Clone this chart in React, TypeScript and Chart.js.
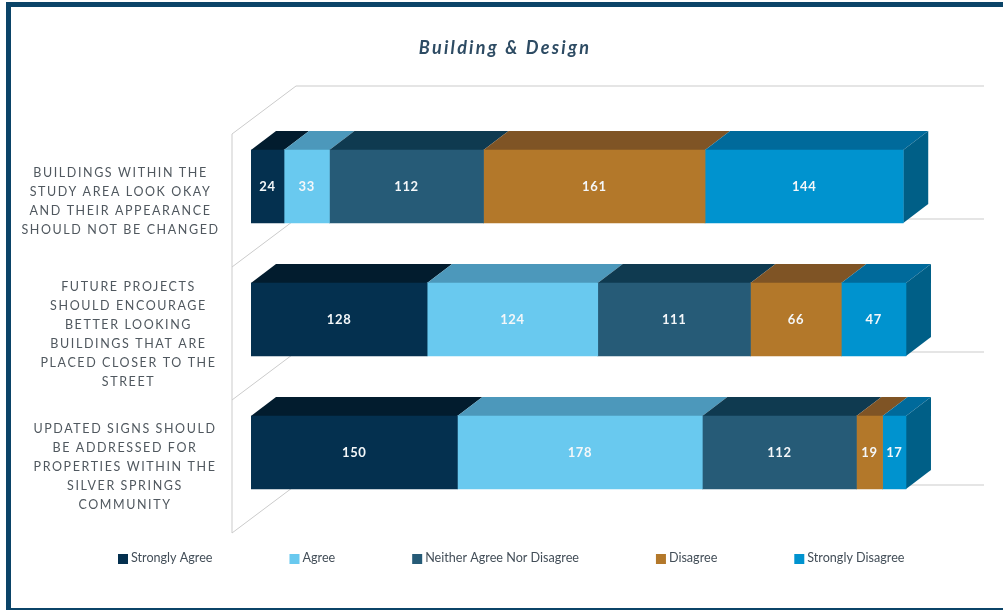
import React, { useEffect, useRef } from "react";
import { Chart, registerables } from "chart.js";

Chart.register(...registerables);

const chartTitle = "Building & Design";
const categories = [
  ["BUILDINGS WITHIN THE", "STUDY AREA LOOK OKAY", "AND THEIR APPEARANCE", "SHOULD NOT BE CHANGED"],
  ["FUTURE PROJECTS", "SHOULD ENCOURAGE", "BETTER LOOKING", "BUILDINGS THAT ARE", "PLACED CLOSER TO THE", "STREET"],
  ["UPDATED SIGNS SHOULD", "BE ADDRESSED FOR", "PROPERTIES WITHIN THE", "SILVER SPRINGS", "COMMUNITY"],
];
const stronglyAgree = [24, 128, 150];
const agree = [33, 124, 178];
const neither = [112, 111, 112];
const disagree = [161, 66, 19];
const stronglyDisagree = [144, 47, 17];

const seriesNames = ["Strongly Agree", "Agree", "Neither Agree Nor Disagree", "Disagree", "Strongly Disagree"];
const seriesValues = [stronglyAgree, agree, neither, disagree, stronglyDisagree];
const frontColors = ["#04304f", "#69c9ef", "#265b77", "#b3782a", "#0093cf"];
const topColors = ["#021c2e", "#4c98bb", "#0f3a50", "#7f5425", "#006a9b"];
const sideColor = "#005f87";

const FACE = 'Lato, "Noto Sans", sans-serif';
const BAR_DX = 25;
const BAR_DY = 19;
const WALL_LEFT = 19;
const WALL_FRONT = 14;
const WALL_BACK = 34;
const WALL_DX = 64;
const LABEL_CENTERS = [120.5, 128.5, 125];

const box3d = {
  id: "box3d",
  beforeDatasetsDraw(chart: any) {
    const { ctx, chartArea, scales } = chart;
    const yScale = scales.y;
    const band = (chartArea.bottom - chartArea.top) / categories.length;
    const fx = chartArea.left - WALL_LEFT;
    const bx = fx + WALL_DX;
    const right = chartArea.right - WALL_LEFT + WALL_DX;
    ctx.save();
    ctx.strokeStyle = "#cbcbcb";
    ctx.lineWidth = 1;
    ctx.beginPath();
    ctx.moveTo(fx, chartArea.top + WALL_FRONT);
    ctx.lineTo(fx, chartArea.bottom + WALL_FRONT);
    for (let i = 0; i <= categories.length; i++) {
      const y = yScale.top + band * i;
      ctx.moveTo(fx, y + WALL_FRONT);
      ctx.lineTo(bx, y - WALL_BACK);
      ctx.lineTo(right, y - WALL_BACK);
    }
    ctx.stroke();

    const count = chart.data.datasets.length;
    for (let d = 0; d < count; d++) {
      chart.getDatasetMeta(d).data.forEach((bar: any) => {
        const p = bar.getProps(["x", "y", "base", "height"], true);
        const top = p.y - p.height / 2;
        ctx.fillStyle = topColors[d];
        ctx.beginPath();
        ctx.moveTo(p.base, top);
        ctx.lineTo(p.x, top);
        ctx.lineTo(p.x + BAR_DX, top - BAR_DY);
        ctx.lineTo(p.base + BAR_DX, top - BAR_DY);
        ctx.closePath();
        ctx.fill();
        if (d === count - 1) {
          const bottom = p.y + p.height / 2;
          ctx.fillStyle = sideColor;
          ctx.beginPath();
          ctx.moveTo(p.x, top);
          ctx.lineTo(p.x + BAR_DX, top - BAR_DY);
          ctx.lineTo(p.x + BAR_DX, bottom - BAR_DY);
          ctx.lineTo(p.x, bottom);
          ctx.closePath();
          ctx.fill();
        }
      });
    }
    ctx.restore();
  },
  afterDatasetsDraw(chart: any) {
    const { ctx, scales } = chart;
    ctx.save();

    // value labels
    ctx.textAlign = "center";
    ctx.textBaseline = "middle";
    ctx.fillStyle = "#f4f7f9";
    ctx.font = `700 13px ${FACE}`;
    (ctx as any).letterSpacing = "0.6px";
    chart.data.datasets.forEach((ds: any, d: number) => {
      chart.getDatasetMeta(d).data.forEach((bar: any, i: number) => {
        const p = bar.getProps(["x", "y", "base"], true);
        ctx.fillText(String(ds.data[i]), (p.x + p.base) / 2, p.y + 0.5);
      });
    });

    // title
    ctx.font = `italic 700 18px ${FACE}`;
    (ctx as any).letterSpacing = "2.25px";
    ctx.fillStyle = "#2d4b63";
    ctx.fillText(chartTitle, 505, 48);

    // category labels
    ctx.font = `400 12.5px ${FACE}`;
    (ctx as any).letterSpacing = "1.6px";
    ctx.fillStyle = "#50585f";
    categories.forEach((lines, i) => {
      const cy = scales.y.getPixelForTick(i) + 14.5;
      lines.forEach((line, k) => {
        ctx.fillText(line, LABEL_CENTERS[i], cy + (k - (lines.length - 1) / 2) * 19);
      });
    });

    // legend
    ctx.font = `400 12.6px ${FACE}`;
    (ctx as any).letterSpacing = "0px";
    ctx.textAlign = "left";
    let x = 118;
    seriesNames.forEach((name, d) => {
      ctx.fillStyle = frontColors[d];
      ctx.fillRect(x, 554, 10, 10);
      ctx.fillStyle = "#434e58";
      ctx.fillText(name, x + 13, 558);
      x += 13 + ctx.measureText(name).width + 77;
    });
    ctx.restore();
  },
};

export default function App() {
  const ref = useRef<HTMLCanvasElement>(null);
  useEffect(() => {
    document.body.style.margin = "0";
    const chart = new Chart(ref.current!, {
      type: "bar",
      data: {
        labels: categories as any,
        datasets: seriesNames.map((label, i) => ({
          label,
          data: seriesValues[i],
          backgroundColor: frontColors[i],
          borderWidth: 0,
          barThickness: 73,
        })),
      },
      options: {
        indexAxis: "y",
        animation: false,
        responsive: false,
        devicePixelRatio: 1,
        layout: { padding: { left: 251, right: 64, top: 120, bottom: 91 } },
        scales: {
          x: { stacked: true, min: 0, max: 500, display: false },
          y: { stacked: true, display: false },
        },
        plugins: { legend: { display: false }, title: { display: false }, tooltip: { enabled: false } },
      },
      plugins: [box3d],
    } as any);
    return () => chart.destroy();
  }, []);
  return (
    <div style={{ position: "fixed", inset: 0, overflow: "hidden", background: "#fff" }}>
      <div
        style={{
          position: "absolute",
          left: 6,
          top: 2,
          width: 1020,
          height: 601,
          border: "5px solid #0b4468",
        }}
      />
      <canvas ref={ref} width={1003} height={610} style={{ position: "absolute", left: 0, top: 0 }} />
    </div>
  );
}
